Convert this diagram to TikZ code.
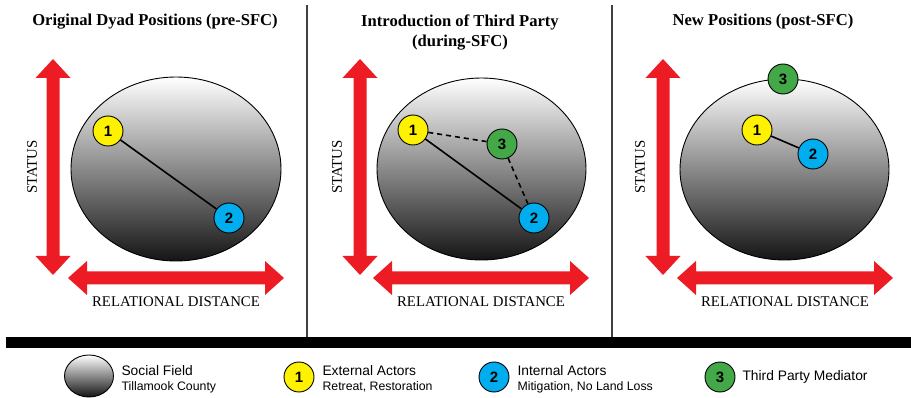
\documentclass[tikz,border=0pt]{standalone}
\usepackage{fontspec}
\setmainfont{Liberation Serif}
\newfontfamily\arialf{Liberation Sans}
\usetikzlibrary{shapes.geometric}
\definecolor{axred}{HTML}{ED1C24}
\definecolor{ayellow}{HTML}{FFF200}
\definecolor{ablue}{HTML}{00AEEF}
\definecolor{agreen}{HTML}{43A848}
\definecolor{sepgray}{HTML}{404040}
\tikzset{
  field/.style={ellipse, draw=black, line width=0.9pt, top color=white, bottom color=black!92, inner sep=0pt},
  actor/.style={circle, draw=black, line width=0.9pt, minimum size=30pt, inner sep=0pt, font=\arialf\bfseries\fontsize{15}{15}\selectfont},
  ext/.style={actor, fill=ayellow},
  intl/.style={actor, fill=ablue},
  med/.style={actor, fill=agreen},
  tie/.style={line width=1.6pt, black},
  dtie/.style={tie, dashed, dash pattern=on 5pt off 4pt},
  ptitle/.style={font=\bfseries\fontsize{16.6}{20}\selectfont, align=center},
  axlabel/.style={font=\fontsize{14.8}{16}\selectfont},
  legmain/.style={font=\arialf\fontsize{13.8}{15}\selectfont, anchor=west},
  legsub/.style={font=\arialf\fontsize{12.3}{13}\selectfont, anchor=west},
}
% vertical double arrow: x, ytop, ybottom
\newcommand\vaxisarrow[3]{%
  \fill[axred] (#1,#2) -- (#1+17.5,#2+19) -- (#1+6.5,#2+19) -- (#1+6.5,#3-19) -- (#1+17.5,#3-19)
    -- (#1,#3) -- (#1-17.5,#3-19) -- (#1-6.5,#3-19) -- (#1-6.5,#2+19) -- (#1-17.5,#2+19) -- cycle;}
% horizontal double arrow: y, xleft, xright
\newcommand\haxisarrow[3]{%
  \fill[axred] (#2,#1) -- (#2+19,#1-17) -- (#2+19,#1-6.5) -- (#3-19,#1-6.5) -- (#3-19,#1-17)
    -- (#3,#1) -- (#3-19,#1+17) -- (#3-19,#1+6.5) -- (#2+19,#1+6.5) -- (#2+19,#1+17) -- cycle;}
\begin{document}
\begin{tikzpicture}[x=1pt,y=-1pt]
\useasboundingbox (0,0) rectangle (911,398);
\fill[white] (0,0) rectangle (911,398);
% separators
\draw[sepgray, line width=1.8pt] (307,5) -- (307,337);
\draw[sepgray, line width=1.8pt] (612,5) -- (612,337);
\fill[black] (6,337) rectangle (911,348);

% ---------- Panel 1 ----------
\node[ptitle] (t1) at (155,22) {Original Dyad Positions (pre-SFC)};
\vaxisarrow{53}{59}{275}
\haxisarrow{278}{68}{284}
\node[axlabel, rotate=90] (s1) at (32,167) {STATUS};
\node[axlabel] (r1) at (176,302) {RELATIONAL DISTANCE};
\node[field, minimum width=210pt, minimum height=184pt] (f1) at (176,169) {};
\node[ext] (a1) at (108,131) {1};
\node[intl] (b1) at (229,218) {2};
\draw[tie] (a1) -- (b1);

% ---------- Panel 2 ----------
\node[ptitle] (t2) at (460,32) {Introduction of Third Party\\(during-SFC)};
\vaxisarrow{360}{59}{275}
\haxisarrow{278}{373}{589}
\node[axlabel, rotate=90] (s2) at (337,167) {STATUS};
\node[axlabel] (r2) at (481,302) {RELATIONAL DISTANCE};
\node[field, minimum width=209pt, minimum height=182pt] (f2) at (481.5,169) {};
\node[ext] (a2) at (413,130) {1};
\node[med] (c2) at (502,144) {3};
\node[intl] (b2) at (534,218) {2};
\draw[tie] (a2) -- (b2);
\draw[dtie] (a2) -- (c2);
\draw[dtie] (c2) -- (b2);

% ---------- Panel 3 ----------
\node[ptitle] (t3) at (763,22) {New Positions (post-SFC)};
\vaxisarrow{663}{59}{275}
\haxisarrow{278}{677}{893}
\node[axlabel, rotate=90] (s3) at (640,167) {STATUS};
\node[axlabel] (r3) at (785,302) {RELATIONAL DISTANCE};
\node[field, minimum width=209pt, minimum height=181pt] (f3) at (784.5,169.5) {};
\node[med] (c3) at (783,79) {3};
\node[ext] (a3) at (757,130) {1};
\node[intl] (b3) at (813,154) {2};
\draw[tie] (a3) -- (b3);

% ---------- Legend ----------
\node[field, minimum width=49pt, minimum height=42pt] (lf) at (89,376) {};
\node[legmain] (lf1) at (118,371) {Social Field};
\node[legsub] (lf2) at (118,387) {Tillamook County};
\node[ext] (l1) at (299,377) {1};
\node[legmain] (l11) at (319,371) {External Actors};
\node[legsub] (l12) at (319,387) {Retreat, Restoration};
\node[intl] (l2) at (494,377) {2};
\node[legmain] (l21) at (514,371) {Internal Actors};
\node[legsub] (l22) at (514,387) {Mitigation, No Land Loss};
\node[med] (l3) at (720,377) {3};
\node[legmain] (l31) at (739,377) {Third Party Mediator};
\end{tikzpicture}
\end{document}
